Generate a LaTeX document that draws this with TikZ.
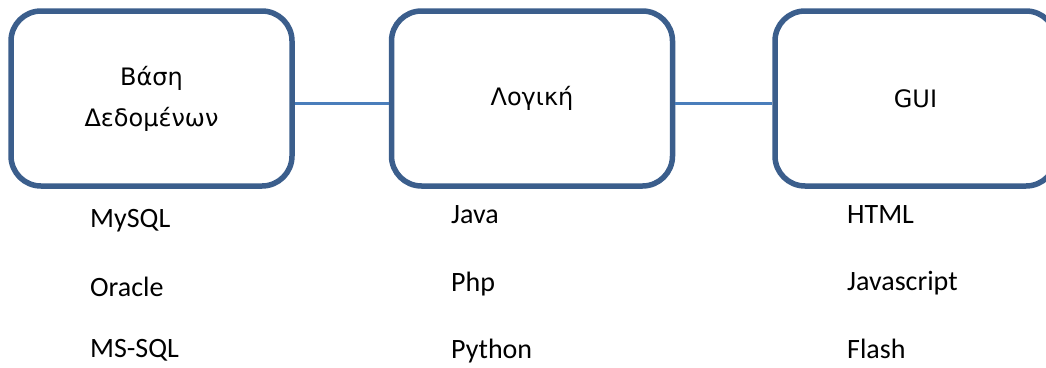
\documentclass[tikz,border=0pt]{standalone}
\usepackage{fontspec}
\setmainfont{Carlito}
\newfontfamily\dejavu{DejaVu Sans}
\usepackage{tikz}
\usetikzlibrary{calc}
\definecolor{rim}{HTML}{3B5E8C}
\definecolor{wire}{HTML}{4A7EBB}
\tikzset{blk/.style={draw=rim,line width=5.5pt,rounded corners=30pt,minimum width=281pt,minimum height=175pt,align=center,font=\dejavu\fontsize{24}{41}\selectfont}}
\tikzset{lst/.style={anchor=base west,inner sep=0pt,font=\fontsize{28}{28}\selectfont}}
\tikzset{conn/.style={draw=wire,line width=3pt}}

\begin{document}
\begin{tikzpicture}[x=1pt,y=-1pt]
        \useasboundingbox (0,0) rectangle (1046,367);
        \node[blk] (db) at (151.5,98.5) {Βάση\\Δεδομένων};
        \node[blk] (logic) at (532,98.5) {Λογική};
        \node[blk] (gui) at (915.5,98.5) {GUI};
        \draw[conn] ([yshift=-5pt]db.east) -- ([yshift=-5pt]logic.west);
        \draw[conn] ([yshift=-5pt]logic.east) -- ([yshift=-5pt]gui.west);
        % databases
        \node[lst] (mysql) at (90,227) {MySQL};
        \node[lst] (oracle) at (90,296) {Oracle};
        \node[lst] (mssql) at (90,357) {MS-SQL};
        % languages
        \node[lst] (java) at (451,223) {Java};
        \node[lst] (php) at (451,291) {Php};
        \node[lst] (python) at (451,358) {Python};
        % front end
        \node[lst] (html) at (847,223) {HTML};
        \node[lst] (js) at (847,290) {Javascript};
        \node[lst] (flash) at (847,358) {Flash};
      \end{tikzpicture}
\end{document}
